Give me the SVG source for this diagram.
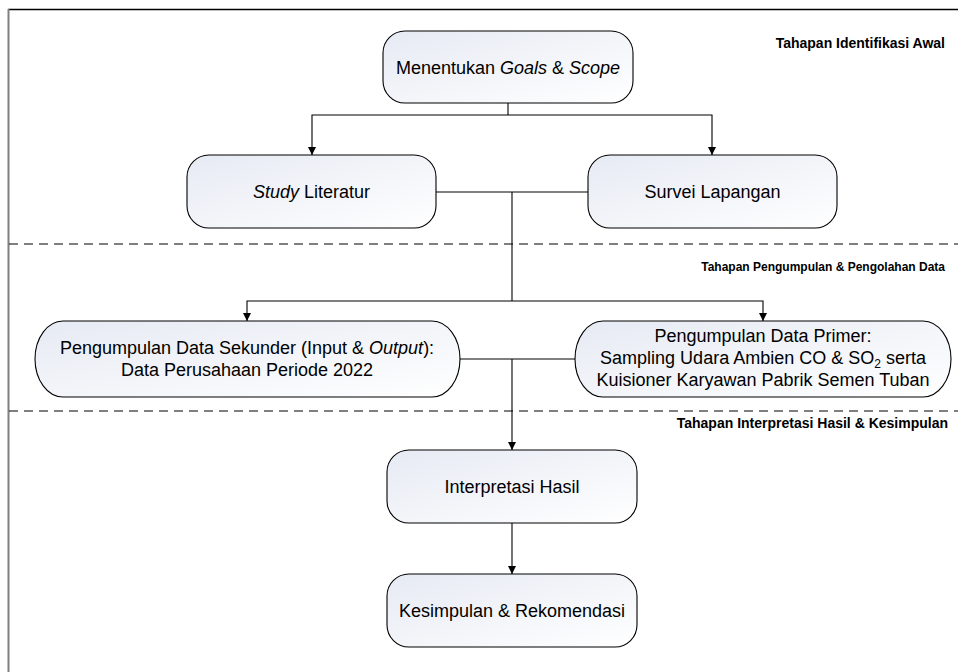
<svg xmlns="http://www.w3.org/2000/svg" width="958" height="672" viewBox="0 0 958 672">
<defs>
<linearGradient id="fill" x1="0" y1="0" x2="1" y2="1">
<stop offset="0" stop-color="#e6eaf3"/>
<stop offset="1" stop-color="#ffffff"/>
</linearGradient>
<marker id="arr" viewBox="0 0 10 10" refX="10" refY="5" markerWidth="8" markerHeight="8" markerUnits="userSpaceOnUse" orient="auto">
<path d="M0,0 L10,5 L0,10 z" fill="#000"/>
</marker>
</defs>
<style>
.box{fill:url(#fill);stroke:#000;stroke-width:1.1}
.t{font-family:"Liberation Sans",Arial,sans-serif;font-size:18px;fill:#000;text-anchor:middle}
.lbl{font-family:"Liberation Sans",Arial,sans-serif;font-weight:bold;fill:#000;text-anchor:end}
.c{fill:none;stroke:#000;stroke-width:1.1}
.a{fill:none;stroke:#000;stroke-width:1.1;marker-end:url(#arr)}
.dash{fill:none;stroke:#000;stroke-width:1.1;stroke-dasharray:9 6}
</style>
<rect width="958" height="672" fill="#fff"/>
<g id="frame">
<line x1="8" y1="9.5" x2="958" y2="9.5" stroke="#000" stroke-width="1.5"/>
<line x1="8.5" y1="9" x2="8.5" y2="672" stroke="#808080" stroke-width="2"/>
<line class="dash" x1="9" y1="244" x2="958" y2="244"/>
<line class="dash" x1="9" y1="411" x2="958" y2="411"/>
</g>
<g id="labels">
<text class="lbl" x="945" y="48" font-size="14">Tahapan Identifikasi Awal</text>
<text class="lbl" x="945" y="271" font-size="12">Tahapan Pengumpulan &amp; Pengolahan Data</text>
<text class="lbl" x="948" y="428" font-size="14">Tahapan Interpretasi Hasil &amp; Kesimpulan</text>
</g>
<g id="connectors">
<polyline class="c" points="508,103 508,115"/>
<polyline class="a" points="508,115 312,115 312,155"/>
<polyline class="a" points="508,115 712,115 712,155"/>
<polyline class="c" points="436,192 588,192"/>
<polyline class="c" points="512,192 512,301"/>
<polyline class="a" points="512,301 247,301 247,321"/>
<polyline class="a" points="512,301 763,301 763,321"/>
<polyline class="c" points="460,359 575,359"/>
<polyline class="a" points="512,359 512,450"/>
<polyline class="a" points="512,523 512,574"/>
</g>
<g id="goals">
<rect class="box" x="383" y="31" width="250" height="72" rx="22" ry="22"/>
<text class="t" x="508" y="74">Menentukan <tspan font-style="italic">Goals</tspan> &amp; <tspan font-style="italic">Scope</tspan></text>
</g>
<g id="study">
<rect class="box" x="187" y="155" width="249" height="73" rx="22" ry="22"/>
<text class="t" x="311.5" y="198"><tspan font-style="italic">Study</tspan> Literatur</text>
</g>
<g id="survei">
<rect class="box" x="588" y="155" width="249" height="73" rx="22" ry="22"/>
<text class="t" x="712.5" y="198">Survei Lapangan</text>
</g>
<g id="sekunder">
<path class="box" d="M63,321 L432,321 A28,38 0 0 1 432,397 L63,397 A28,38 0 0 1 63,321 Z"/>
<text class="t" x="247" y="354">Pengumpulan Data Sekunder (Input &amp; <tspan font-style="italic">Output</tspan>):</text>
<text class="t" x="247" y="376">Data Perusahaan Periode 2022</text>
</g>
<g id="primer">
<path class="box" d="M603,321 L923,321 A28,38 0 0 1 923,397 L603,397 A28,38 0 0 1 603,321 Z"/>
<text class="t" x="763" y="342">Pengumpulan Data Primer:</text>
<text class="t" x="763" y="364">Sampling Udara Ambien CO &amp; SO<tspan font-size="12" dy="4">2</tspan><tspan dy="-4"> serta</tspan></text>
<text class="t" x="763" y="386">Kuisioner Karyawan Pabrik Semen Tuban</text>
</g>
<g id="interpretasi">
<rect class="box" x="387" y="450" width="250" height="73" rx="22" ry="22"/>
<text class="t" x="512" y="493">Interpretasi Hasil</text>
</g>
<g id="kesimpulan">
<rect class="box" x="387" y="574" width="250" height="73" rx="22" ry="22"/>
<text class="t" x="512" y="617">Kesimpulan &amp; Rekomendasi</text>
</g>
</svg>
